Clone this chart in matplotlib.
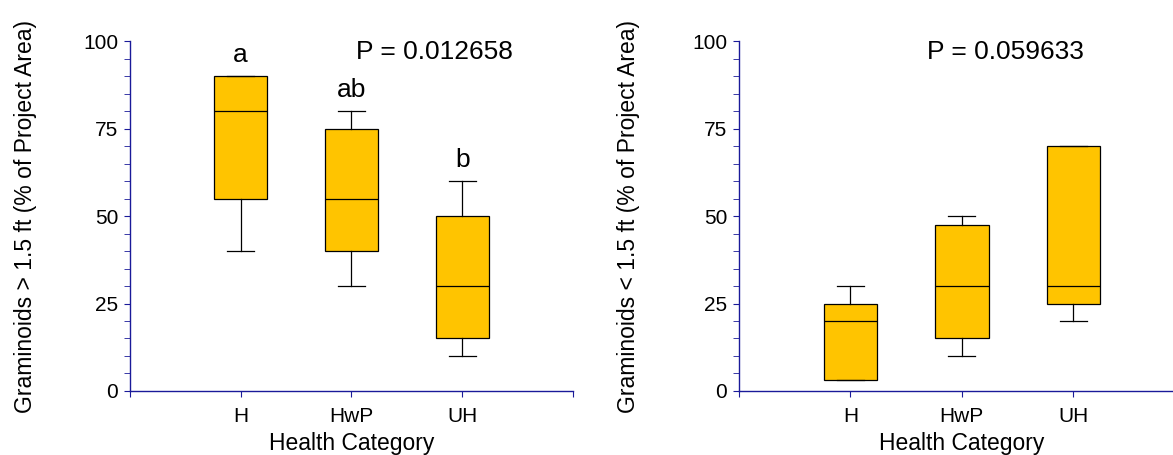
import matplotlib
matplotlib.use('Agg')
import matplotlib.pyplot as plt
from matplotlib.ticker import MultipleLocator

plt.rcParams['font.family'] = ['Liberation Sans', 'DejaVu Sans']

categories = ['H', 'HwP', 'UH']

# left panel: graminoids > 1.5 ft
tall_low = [40, 30, 10]
tall_q1 = [55, 40, 15]
tall_med = [80, 55, 30]
tall_q3 = [90, 75, 50]
tall_high = [90, 80, 60]
tall_letters = ['a', 'ab', 'b']
tall_letter_y = [96, 86, 66]
tall_p = 'P = 0.012658'

# right panel: graminoids < 1.5 ft
short_low = [3, 10, 20]
short_q1 = [3, 15, 25]
short_med = [20, 30, 30]
short_q3 = [25, 47.5, 70]
short_high = [30, 50, 70]
short_p = 'P = 0.059633'

axis_col = '#1a1a99'
box_col = '#ffc400'


def make_stats(low, q1, med, q3, high):
    return [dict(whislo=a, q1=b, med=c, q3=d, whishi=e, fliers=[])
            for a, b, c, d, e in zip(low, q1, med, q3, high)]


def style_axis(ax, ylabel, label_x):
    ax.set_xlim(0, 4)
    ax.set_ylim(0, 100)
    ax.spines['top'].set_visible(False)
    ax.spines['right'].set_visible(False)
    for s in ['left', 'bottom']:
        ax.spines[s].set_color(axis_col)
        ax.spines[s].set_linewidth(1.0)
    ax.yaxis.set_major_locator(MultipleLocator(25))
    ax.yaxis.set_minor_locator(MultipleLocator(5))
    ax.set_xticks([0, 1, 2, 3, 4])
    ax.set_xticklabels([''] + categories + [''])
    ax.tick_params(axis='both', which='both', direction='out', color=axis_col,
                   labelsize=15, labelcolor='black', length=4.5)
    ax.tick_params(axis='y', pad=4)
    ax.tick_params(axis='x', pad=7)
    ax.set_xlabel('Health Category', fontsize=16.5, labelpad=4)
    ax.set_ylabel(ylabel, fontsize=16.5)
    ax.yaxis.set_label_coords(label_x, 0.5)


fig = plt.figure(figsize=(11.73, 4.55), dpi=100)
ax1 = fig.add_axes([0.1108, 0.1407, 0.3777, 0.769])
ax2 = fig.add_axes([0.630, 0.1407, 0.380, 0.769])

box_kw = dict(positions=[1, 2, 3], widths=0.48, patch_artist=True, showfliers=False,
              boxprops=dict(facecolor=box_col, edgecolor='black', linewidth=0.9),
              medianprops=dict(color='black', linewidth=0.9),
              whiskerprops=dict(color='black', linewidth=0.9),
              capprops=dict(color='black', linewidth=0.9))

ax1.bxp(make_stats(tall_low, tall_q1, tall_med, tall_q3, tall_high), **box_kw)
ax2.bxp(make_stats(short_low, short_q1, short_med, short_q3, short_high), **box_kw)

style_axis(ax1, 'Graminoids > 1.5 ft (% of Project Area)', -0.209)
style_axis(ax2, 'Graminoids < 1.5 ft (% of Project Area)', -0.223)

for i, (lab, yy) in enumerate(zip(tall_letters, tall_letter_y)):
    ax1.text(i + 1, yy, lab, ha='center', va='center', fontsize=19)
ax1.text(2.75, 97, tall_p, ha='center', va='center', fontsize=19)
ax2.text(2.39, 97, short_p, ha='center', va='center', fontsize=19)

fig.savefig('out.png', dpi=100)
